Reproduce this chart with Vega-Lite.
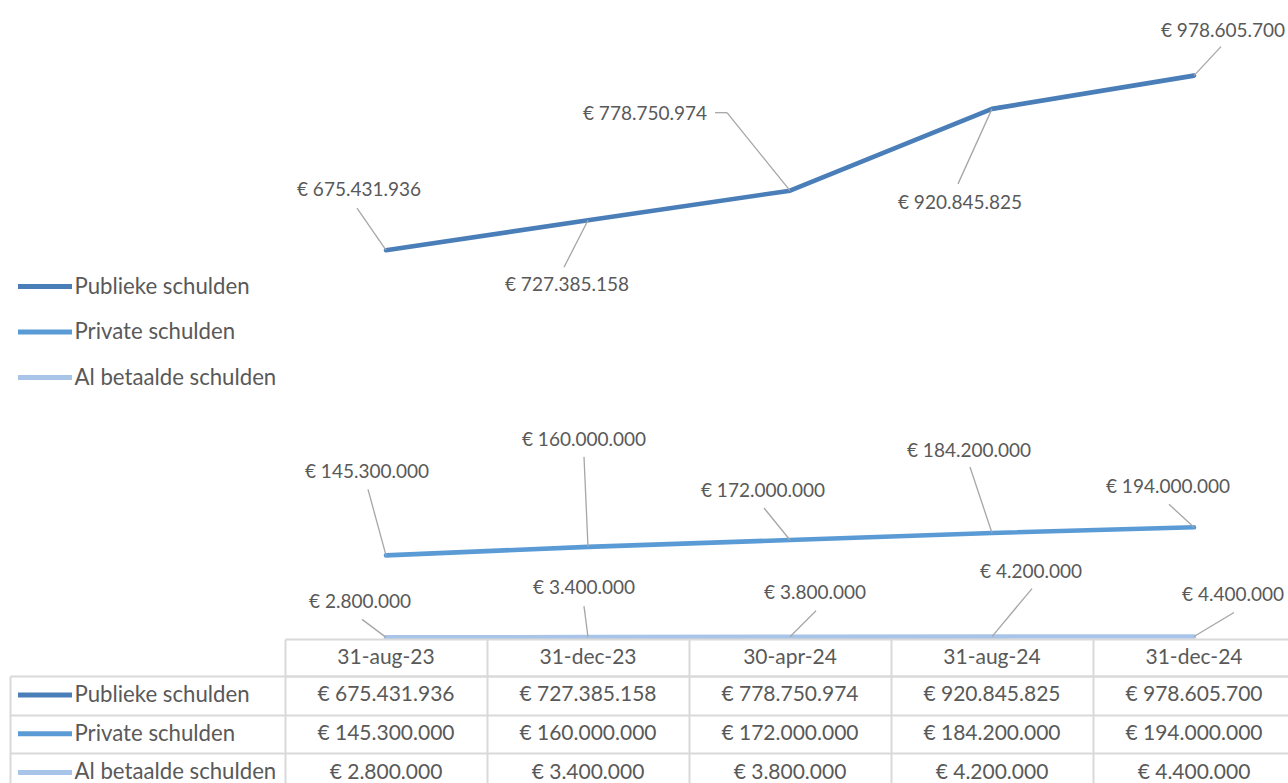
{
  "$schema": "https://vega.github.io/schema/vega-lite/v6.json",
  "background": "white",
  "padding": {"left": 9, "top": 0, "right": 0, "bottom": 0},
  "spacing": 0,
  "bounds": "flush",
  "config": {
    "view": {"stroke": null},
    "locale": {"number": {"decimal": ",", "thousands": ".", "grouping": [3], "currency": ["€ ", ""]}},
    "text": {"font": "Lato", "fontSize": 19, "color": "#595959", "align": "center", "baseline": "middle"},
    "rule": {"color": "#A6A6A6", "strokeWidth": 1.3},
    "legend": {
      "orient": "none", "title": null, "padding": 0,
      "symbolType": "stroke", "symbolSize": 2916, "symbolStrokeWidth": 5, "symbolOpacity": 1,
      "symbolOffset": -2.5, "labelOffset": 0,
      "labelFont": "Lato", "labelFontSize": 22.2, "labelColor": "#595959", "labelLimit": 400,
      "clipHeight": 30
    }
  },
  "data": {
    "values": [
      {"date": "31-aug-23", "series": "Publieke schulden", "value": 675431936},
      {"date": "31-dec-23", "series": "Publieke schulden", "value": 727385158},
      {"date": "30-apr-24", "series": "Publieke schulden", "value": 778750974},
      {"date": "31-aug-24", "series": "Publieke schulden", "value": 920845825},
      {"date": "31-dec-24", "series": "Publieke schulden", "value": 978605700},
      {"date": "31-aug-23", "series": "Private schulden", "value": 145300000},
      {"date": "31-dec-23", "series": "Private schulden", "value": 160000000},
      {"date": "30-apr-24", "series": "Private schulden", "value": 172000000},
      {"date": "31-aug-24", "series": "Private schulden", "value": 184200000},
      {"date": "31-dec-24", "series": "Private schulden", "value": 194000000},
      {"date": "31-aug-23", "series": "Al betaalde schulden", "value": 2800000},
      {"date": "31-dec-23", "series": "Al betaalde schulden", "value": 3400000},
      {"date": "30-apr-24", "series": "Al betaalde schulden", "value": 3800000},
      {"date": "31-aug-24", "series": "Al betaalde schulden", "value": 4200000},
      {"date": "31-dec-24", "series": "Al betaalde schulden", "value": 4400000}
    ]
  },
  "vconcat": [
    {
      "width": 1010,
      "height": 639,
      "encoding": {
        "x": {"field": "date", "type": "ordinal", "scale": {"type": "point", "domain": ["31-aug-23", "31-dec-23", "30-apr-24", "31-aug-24", "31-dec-24"], "padding": 0.5}, "axis": null},
        "y": {"field": "value", "type": "quantitative", "scale": {"domain": [0, 1110000000], "nice": false, "zero": true}, "axis": null}
      },
      "layer": [
        {
          "mark": {"type": "line", "strokeWidth": 4.6, "strokeCap": "round", "strokeJoin": "round"},
          "encoding": {
            "color": {"field": "series", "type": "nominal",
              "scale": {"domain": ["Publieke schulden", "Private schulden", "Al betaalde schulden"], "range": ["#4A7EB8", "#5B9BD5", "#A8C5E9"]},
              "legend": {"legendX": -267, "legendY": 271.5, "rowPadding": 15.5}}
          }
        },
        {"transform": [{"filter": "datum.series=='Publieke schulden' && datum.date=='31-aug-23'"}], "layer": [
          {"mark": {"type": "rule", "x2Offset": -29, "y2Offset": -42}, "encoding": {"x2": {"field": "date"}, "y2": {"field": "value"}}},
          {"mark": {"type": "text", "dx": -27, "dy": -60}, "encoding": {"text": {"field": "value", "format": "$,.0f"}}}]},
        {"transform": [{"filter": "datum.series=='Publieke schulden' && datum.date=='31-dec-23'"}], "layer": [
          {"mark": {"type": "rule", "x2Offset": -24, "y2Offset": 47}, "encoding": {"x2": {"field": "date"}, "y2": {"field": "value"}}},
          {"mark": {"type": "text", "dx": -21, "dy": 65}, "encoding": {"text": {"field": "value", "format": "$,.0f"}}}]},
        {"transform": [{"filter": "datum.series=='Publieke schulden' && datum.date=='30-apr-24'"}], "layer": [
          {"mark": {"type": "rule", "x2Offset": -63, "y2Offset": -78}, "encoding": {"x2": {"field": "date"}, "y2": {"field": "value"}}},
          {"mark": {"type": "rule", "xOffset": -63, "yOffset": -78, "x2Offset": -75, "y2Offset": -78}, "encoding": {"x2": {"field": "date"}, "y2": {"field": "value"}}},
          {"mark": {"type": "text", "dx": -145, "dy": -77}, "encoding": {"text": {"field": "value", "format": "$,.0f"}}}]},
        {"transform": [{"filter": "datum.series=='Publieke schulden' && datum.date=='31-aug-24'"}], "layer": [
          {"mark": {"type": "rule", "x2Offset": -34, "y2Offset": 75}, "encoding": {"x2": {"field": "date"}, "y2": {"field": "value"}}},
          {"mark": {"type": "text", "dx": -32, "dy": 94}, "encoding": {"text": {"field": "value", "format": "$,.0f"}}}]},
        {"transform": [{"filter": "datum.series=='Publieke schulden' && datum.date=='31-dec-24'"}], "layer": [
          {"mark": {"type": "rule", "x2Offset": 27, "y2Offset": -29}, "encoding": {"x2": {"field": "date"}, "y2": {"field": "value"}}},
          {"mark": {"type": "text", "dx": 29, "dy": -45}, "encoding": {"text": {"field": "value", "format": "$,.0f"}}}]},
        {"transform": [{"filter": "datum.series=='Private schulden' && datum.date=='31-aug-23'"}], "layer": [
          {"mark": {"type": "rule", "x2Offset": -18, "y2Offset": -66}, "encoding": {"x2": {"field": "date"}, "y2": {"field": "value"}}},
          {"mark": {"type": "text", "dx": -19, "dy": -83}, "encoding": {"text": {"field": "value", "format": "$,.0f"}}}]},
        {"transform": [{"filter": "datum.series=='Private schulden' && datum.date=='31-dec-23'"}], "layer": [
          {"mark": {"type": "rule", "x2Offset": -4, "y2Offset": -90}, "encoding": {"x2": {"field": "date"}, "y2": {"field": "value"}}},
          {"mark": {"type": "text", "dx": -4, "dy": -107}, "encoding": {"text": {"field": "value", "format": "$,.0f"}}}]},
        {"transform": [{"filter": "datum.series=='Private schulden' && datum.date=='30-apr-24'"}], "layer": [
          {"mark": {"type": "rule", "x2Offset": -26, "y2Offset": -32}, "encoding": {"x2": {"field": "date"}, "y2": {"field": "value"}}},
          {"mark": {"type": "text", "dx": -27, "dy": -49}, "encoding": {"text": {"field": "value", "format": "$,.0f"}}}]},
        {"transform": [{"filter": "datum.series=='Private schulden' && datum.date=='31-aug-24'"}], "layer": [
          {"mark": {"type": "rule", "x2Offset": -22, "y2Offset": -66}, "encoding": {"x2": {"field": "date"}, "y2": {"field": "value"}}},
          {"mark": {"type": "text", "dx": -23, "dy": -82}, "encoding": {"text": {"field": "value", "format": "$,.0f"}}}]},
        {"transform": [{"filter": "datum.series=='Private schulden' && datum.date=='31-dec-24'"}], "layer": [
          {"mark": {"type": "rule", "x2Offset": -25, "y2Offset": -23}, "encoding": {"x2": {"field": "date"}, "y2": {"field": "value"}}},
          {"mark": {"type": "text", "dx": -26, "dy": -40}, "encoding": {"text": {"field": "value", "format": "$,.0f"}}}]},
        {"transform": [{"filter": "datum.series=='Al betaalde schulden' && datum.date=='31-aug-23'"}], "layer": [
          {"mark": {"type": "rule", "x2Offset": -24, "y2Offset": -18}, "encoding": {"x2": {"field": "date"}, "y2": {"field": "value"}}},
          {"mark": {"type": "text", "dx": -26, "dy": -35}, "encoding": {"text": {"field": "value", "format": "$,.0f"}}}]},
        {"transform": [{"filter": "datum.series=='Al betaalde schulden' && datum.date=='31-dec-23'"}], "layer": [
          {"mark": {"type": "rule", "x2Offset": -4, "y2Offset": -31}, "encoding": {"x2": {"field": "date"}, "y2": {"field": "value"}}},
          {"mark": {"type": "text", "dx": -4, "dy": -49}, "encoding": {"text": {"field": "value", "format": "$,.0f"}}}]},
        {"transform": [{"filter": "datum.series=='Al betaalde schulden' && datum.date=='30-apr-24'"}], "layer": [
          {"mark": {"type": "rule", "x2Offset": 26, "y2Offset": -26}, "encoding": {"x2": {"field": "date"}, "y2": {"field": "value"}}},
          {"mark": {"type": "text", "dx": 25, "dy": -44}, "encoding": {"text": {"field": "value", "format": "$,.0f"}}}]},
        {"transform": [{"filter": "datum.series=='Al betaalde schulden' && datum.date=='31-aug-24'"}], "layer": [
          {"mark": {"type": "rule", "x2Offset": 40, "y2Offset": -48}, "encoding": {"x2": {"field": "date"}, "y2": {"field": "value"}}},
          {"mark": {"type": "text", "dx": 39, "dy": -65}, "encoding": {"text": {"field": "value", "format": "$,.0f"}}}]},
        {"transform": [{"filter": "datum.series=='Al betaalde schulden' && datum.date=='31-dec-24'"}], "layer": [
          {"mark": {"type": "rule", "x2Offset": 40, "y2Offset": -24}, "encoding": {"x2": {"field": "date"}, "y2": {"field": "value"}}},
          {"mark": {"type": "text", "dx": 39, "dy": -41}, "encoding": {"text": {"field": "value", "format": "$,.0f"}}}]}
      ]
    },
    {
      "width": 1010,
      "height": 37,
      "transform": [{"filter": "datum.series=='Publieke schulden'"}],
      "mark": {"type": "text", "fontSize": 21},
      "encoding": {
        "x": {"field": "date", "type": "ordinal", "scale": {"type": "band", "domain": ["31-aug-23", "31-dec-23", "30-apr-24", "31-aug-24", "31-dec-24"], "paddingInner": 0, "paddingOuter": 0},
          "axis": {"grid": true, "tickBand": "extent", "labels": false, "ticks": false, "domain": false, "title": null, "gridColor": "#D9D9D9", "gridWidth": 2}},
        "y": {"datum": "header", "type": "nominal", "scale": {"paddingInner": 0, "paddingOuter": 0},
          "axis": {"grid": true, "tickBand": "extent", "labels": false, "ticks": false, "domain": false, "title": null, "gridColor": "#D9D9D9", "gridWidth": 2}},
        "text": {"field": "date"}
      }
    },
    {
      "width": 1010,
      "height": 116,
      "encoding": {
        "x": {"field": "date", "type": "ordinal", "scale": {"type": "band", "domain": ["31-aug-23", "31-dec-23", "30-apr-24", "31-aug-24", "31-dec-24"], "paddingInner": 0, "paddingOuter": 0},
          "axis": {"grid": true, "tickBand": "extent", "labels": false, "ticks": false, "domain": false, "title": null, "gridColor": "#D9D9D9", "gridWidth": 2}},
        "y": {"field": "series", "type": "nominal", "scale": {"domain": ["Publieke schulden", "Private schulden", "Al betaalde schulden"], "paddingInner": 0, "paddingOuter": 0},
          "axis": {"grid": true, "tickBand": "extent", "labels": false, "ticks": true, "tickSize": -275, "offset": 275, "domain": true, "title": null,
            "gridColor": "#D9D9D9", "gridWidth": 2, "tickColor": "#D9D9D9", "tickWidth": 2, "domainColor": "#D9D9D9", "domainWidth": 2}}
      },
      "layer": [
        {
          "mark": {"type": "line", "opacity": 0},
          "encoding": {
            "color": {"field": "series", "type": "nominal",
              "scale": {"domain": ["Publieke schulden", "Private schulden", "Al betaalde schulden"], "range": ["#4A7EB8", "#5B9BD5", "#A8C5E9"]},
              "legend": {"legendX": -267, "legendY": 4, "rowPadding": 8.7}}
          }
        },
        {
          "mark": {"type": "text", "fontSize": 21},
          "encoding": {"text": {"field": "value", "format": "$,.0f"}}
        }
      ]
    }
  ],
  "resolve": {"legend": {"color": "independent"}, "scale": {"color": "independent"}}
}
